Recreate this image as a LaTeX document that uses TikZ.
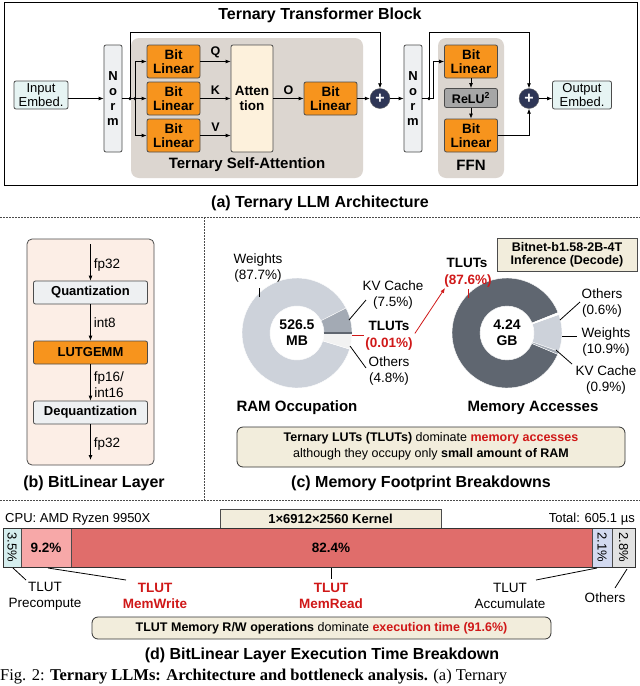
\documentclass[tikz,border=0pt]{standalone}
\usepackage{fontspec}
\setmainfont{Liberation Sans}
\newfontfamily\seriffont{Liberation Serif}
\usetikzlibrary{arrows.meta,calc}
\definecolor{blorange}{HTML}{F7941D}
\definecolor{embfill}{HTML}{E6F4F3}
\definecolor{normfill}{HTML}{EEF0F2}
\definecolor{attfill}{HTML}{FDF1DC}
\definecolor{regfill}{HTML}{DCD6D0}
\definecolor{plusfill}{HTML}{2E3656}
\definecolor{bgb}{HTML}{FCEEE6}
\definecolor{callfill}{HTML}{F2EDDC}
\definecolor{redtxt}{HTML}{D01818}
\definecolor{wgray}{HTML}{CDD2DA}
\definecolor{kvgray}{HTML}{A3AAB4}
\definecolor{darkgray}{HTML}{5F6670}
\definecolor{segA}{HTML}{D5EEEE}
\definecolor{segB}{HTML}{F7A8A8}
\definecolor{segC}{HTML}{E06D6B}
\definecolor{segD}{HTML}{D3DAF0}
\definecolor{segE}{HTML}{E2E2E2}
\newcommand{\fs}[1]{\fontsize{#1}{#1}\selectfont}
\newcommand{\donutseg}[6]{% cx cy a1 a2 color
  \begin{scope}[shift={(#1,#2)},y=1pt]
    \fill[#5,draw=white,line width=#6] (#3:55) arc[start angle=#3,end angle=#4,radius=55]
      -- (#4:27) arc[start angle=#4,end angle=#3,radius=27] -- cycle;
  \end{scope}}
\tikzset{
  box/.style={draw=black!70,line width=0.8pt,rounded corners=2pt,align=center,inner sep=0pt},
  bl/.style={box,fill=blorange,font=\fs{13.5}\bfseries,minimum width=53pt,minimum height=33pt},
  norm/.style={box,fill=normfill,font=\fs{13}\bfseries,minimum width=18pt,minimum height=107pt},
  emb/.style={box,fill=embfill,font=\fs{13},minimum width=54pt,minimum height=28pt},
  plus/.style={circle,fill=plusfill,draw=black!60,minimum size=20pt,inner sep=0pt,text=white,font=\fs{16}\bfseries},
  region/.style={fill=regfill,rounded corners=8pt},
  arr/.style={-{Latex[length=5pt,width=4pt]},line width=0.8pt},
  ln/.style={line width=0.8pt},
  dot/.style={circle,fill=black,inner sep=0pt,minimum size=3.5pt},
  captxt/.style={font=\fs{16}\bfseries},
  lbl/.style={font=\fs{13.5},align=center,inner sep=0pt},
  qbox/.style={box,fill=normfill,font=\fs{13}\bfseries,minimum width=114pt,minimum height=23pt},
  call/.style={draw=black!80,line width=0.8pt,rounded corners=6pt,fill=callfill},
  dsh/.style={dash pattern=on 2pt off 1pt,line width=0.8pt,black!70}
}
\begin{document}
\begin{tikzpicture}[x=1pt,y=-1pt]
\useasboundingbox (0,0) rectangle (640,686);
\fill[white] (0,0) rectangle (640,686);

% ---------- (a) architecture
\draw[line width=0.8pt] (4,2) rectangle (637,185);
\node[font=\fs{16}\bfseries] at (320,15) {Ternary Transformer Block};
\fill[region] (131,38) rectangle (363,178);
\fill[region] (438,38) rectangle (504,178);
\node[font=\fs{15}\bfseries] at (247,165) {Ternary Self-Attention};
\node[font=\fs{15}\bfseries] at (471,165) {FFN};

\node[emb] (in) at (41,95) {Input\\[1pt]Embed.};
\node[norm] (n1) at (113,98.5) {N\\[2pt]o\\[2pt]r\\[2pt]m};
\node[bl] (bq) at (173.5,61.5) {Bit\\[1pt]Linear};
\node[bl] (bk) at (173.5,98.5) {Bit\\[1pt]Linear};
\node[bl] (bv) at (173.5,135.5) {Bit\\[1pt]Linear};
\node[box,fill=attfill,font=\fs{13.5}\bfseries,minimum width=42pt,minimum height=107pt] (att) at (252,98.5) {Atten\\[1pt]tion};
\node[bl] (bo) at (330.5,98.5) {Bit\\[1pt]Linear};
\node[plus] (p1) at (380,98.5) {+};
\node[norm] (n2) at (413,98.5) {N\\[2pt]o\\[2pt]r\\[2pt]m};
\node[bl] (f1) at (471,61.5) {Bit\\[1pt]Linear};
\node[box,fill=black!35,font=\fs{12.5}\bfseries,minimum width=53pt,minimum height=19pt] (relu) at (471,98) {ReLU\textsuperscript{2}};
\node[bl] (f2) at (471,135.5) {Bit\\[1pt]Linear};
\node[plus] (p2) at (529,98.5) {+};
\node[emb,minimum width=59pt] (out) at (582,95) {Output\\[1pt]Embed.};

\coordinate (j1) at (130,98.5);
\coordinate (b1) at (135,98.5);
\draw[arr] (in.east |- n1) -- (n1);
\draw[ln] (n1) -- (b1);
\node[dot] at (j1) {};
\node[dot] at (b1) {};
\draw[ln] (135,61.5) -- (135,135.5);
\draw[arr] (135,61.5) -- (bq);
\draw[arr] (b1) -- (bk);
\draw[arr] (135,135.5) -- (bv);
\draw[arr] (j1) -- (130,32) -| (p1);
\draw[arr] (bq.east) -- node[above,font=\fs{12.5}\bfseries] {Q} (bq.east -| att.west);
\draw[arr] (bk.east) -- node[above,font=\fs{12.5}\bfseries] {K} (bk.east -| att.west);
\draw[arr] (bv.east) -- node[above,font=\fs{12.5}\bfseries] {V} (bv.east -| att.west);
\draw[arr] (att) -- node[above,font=\fs{12.5}\bfseries] {O} (bo);
\draw[arr] (bo) -- (p1);
\draw[arr] (p1) -- (n2);
\coordinate (j2) at (429,98.5);
\draw[ln] (n2) -- (433,98.5);
\node[dot] at (j2) {};
\draw[arr] (433,98.5) |- (f1.west);
\draw[arr] (j2) -- (429,32) -| (p2);
\draw[arr] (f1) -- (relu);
\draw[arr] (relu) -- (f2);
\draw[arr] (f2.east) -| (p2);
\draw[arr] (p2) -- (out.west |- p2);
\node[captxt] at (320,203) {(a) Ternary LLM Architecture};

% dashed separators
\draw[dsh] (0,217) -- (640,217);
\draw[dsh] (204,217) -- (204,500);
\draw[dsh] (0,500) -- (640,500);

% ---------- (b) BitLinear layer
\fill[bgb,draw=black!70,line width=0.8pt,rounded corners=5pt] (27,239) rectangle (154,465);
\node[qbox] (qz) at (90.5,292.5) {Quantization};
\node[qbox,fill=blorange] (lg) at (90.5,352.5) {LUTGEMM};
\node[qbox] (dq) at (90.5,412.5) {Dequantization};
\coordinate (bin) at (90.5,244);
\coordinate (bout) at (90.5,460);
\draw[arr] (bin) -- node[right,lbl,xshift=3pt,yshift=-3pt] {fp32} (qz);
\draw[arr] (qz) -- node[right,lbl,xshift=3pt] {int8} (lg);
\draw[arr] (lg) -- node[right,lbl,xshift=3pt,yshift=-2pt] {fp16/\\[2pt]int16} (dq);
\draw[arr] (dq) -- node[right,lbl,xshift=3pt,yshift=-2pt] {fp32} (bout);
\node[captxt] at (94,483) {(b) BitLinear Layer};

% ---------- (c) memory footprint
\donutseg{297}{333}{27}{343}{wgray}{0.4pt}
\donutseg{297}{333}{0}{27}{kvgray}{0.4pt}
\donutseg{297}{333}{-17}{0}{black!5}{0.4pt}
\draw[darkgray,line width=1.5pt] (324,333) -- (352,333);
\node[font=\fs{14}\bfseries,align=center] at (297,333) {526.5\\[2pt]MB};

\donutseg{507}{333}{21.8}{337.2}{darkgray}{0.4pt}
\donutseg{507}{333}{-19.6}{19.6}{wgray}{0.4pt}
\donutseg{507}{333}{19.6}{21.8}{white}{0.1pt}
\donutseg{507}{333}{-22.8}{-19.6}{kvgray}{0.4pt}
\node[font=\fs{14}\bfseries,align=center] at (507,333) {4.24\\[2pt]GB};

\node[lbl] (wl) at (258,268) {Weights\\[2pt](87.7\%)};
\draw[ln] (259,288) -- (259,297);
\node[lbl] (kvl) at (393,295) {KV Cache\\[2pt](7.5\%)};
\draw[ln] (349,320) -- (366,300);
\node[lbl,font=\fs{13.5}\bfseries] (tl) at (389,326) {TLUTs};
\node[lbl,font=\fs{13.5}\bfseries,text=redtxt] (tlp) at (389,344) {(0.01\%)};
\draw[redtxt,line width=0.8pt] (352,335) -- (364,335);
\node[lbl] (ol) at (389,371) {Others\\[2pt](4.8\%)};
\draw[ln] (350,346) -- (366,368);
\draw[arr,redtxt] (tlp.north east) ++(2,-4) -- (445,288);

\node[font=\fs{13.5}\bfseries,inner sep=0pt] at (467,263) {TLUTs};
\node[font=\fs{13.5}\bfseries,text=redtxt,inner sep=0pt] at (468,281) {(87.6\%)};
\draw[redtxt,line width=0.8pt] (468,289) -- (468,298);
\node[box,fill=callfill,rounded corners=0pt,font=\fs{12.5}\bfseries,minimum width=140pt,minimum height=33pt] at (567,255) {Bitnet-b1.58-2B-4T\\[1pt]Inference (Decode)};
\node[lbl] at (602,303) {Others\\[2pt](0.6\%)};
\draw[ln] (560,320) -- (580,302);
\node[lbl] at (606,342) {Weights\\[2pt](10.9\%)};
\draw[ln] (562,336) -- (577,336);
\node[lbl] at (606,380) {KV Cache\\[2pt](0.9\%)};
\draw[ln] (556,350) -- (572,364);

\node[font=\fs{15}\bfseries] at (297,408) {RAM Occupation};
\node[font=\fs{15}\bfseries] at (533,408) {Memory Accesses};
\fill[call] (237,427) rectangle (625,467);
\node[font=\fs{12.5},align=center] at (431,446.5) {\textbf{Ternary LUTs (TLUTs)} dominate \textcolor{redtxt}{\textbf{memory accesses}}\\[3pt]although they occupy only \textbf{small amount of RAM}};
\node[captxt] at (421,483) {(c) Memory Footprint Breakdowns};

% ---------- (d) execution time
\node[font=\fs{13},anchor=west,inner sep=0pt] at (5,519) {CPU: AMD Ryzen 9950X};
\node[font=\fs{13},anchor=east,inner sep=0pt] at (635,519) {Total: 605.1 µs};
\node[box,rounded corners=0pt,fill=callfill,font=\fs{13}\bfseries,minimum width=221pt,minimum height=19pt] at (330.5,519) {1×6912×2560 Kernel};
\fill[segA] (3,528) rectangle (21,567);
\fill[segB] (21,528) rectangle (71,567);
\fill[segC] (71,528) rectangle (592,567);
\fill[segD] (592,528) rectangle (612,567);
\fill[segE] (612,528) rectangle (635,567);
\foreach \xx in {21,71,592,612} \draw[black!70,line width=0.6pt] (\xx,528) -- (\xx,567);
\draw[black!80,line width=0.8pt] (3,528) rectangle (635,567);
\node[rotate=-90,font=\fs{13}] at (12,547.5) {3.5\%};
\node[font=\fs{13.5}\bfseries] at (46,547.5) {9.2\%};
\node[font=\fs{13.5}\bfseries] at (331,547.5) {82.4\%};
\node[rotate=-90,font=\fs{13}] at (602,547.5) {2.1\%};
\node[rotate=-90,font=\fs{13}] at (623.5,547.5) {2.8\%};

\node[lbl] at (45,596) {TLUT\\[3pt]Precompute};
\node[lbl,font=\fs{13.5}\bfseries,text=redtxt] at (155,596) {TLUT\\[3pt]MemWrite};
\node[lbl,font=\fs{13.5}\bfseries,text=redtxt] at (331,596) {TLUT\\[3pt]MemRead};
\node[lbl] at (510,596) {TLUT\\[3pt]Accumulate};
\node[lbl] at (605,598) {Others};
\draw[ln] (13,568) -- (26,580);
\draw[ln] (48,568) -- (126,580);
\draw[ln] (331,568) -- (331,579);
\draw[ln] (597,568) -- (536,580);
\draw[ln] (627,569) -- (615,588);

\fill[call] (92,617) rectangle (551,639);
\node[font=\fs{12.5}] at (321.5,628) {\textbf{TLUT Memory R/W operations} dominate \textcolor{redtxt}{\textbf{execution time (91.6\%)}}};
\node[captxt] at (322,655) {(d) BitLinear Layer Execution Time Breakdown};
\node[font=\seriffont\fs{16.5},anchor=west,inner sep=0pt] at (0,677) {Fig. 2: \textbf{Ternary LLMs: Architecture and bottleneck analysis.} (a) Ternary};
\end{tikzpicture}
\end{document}
